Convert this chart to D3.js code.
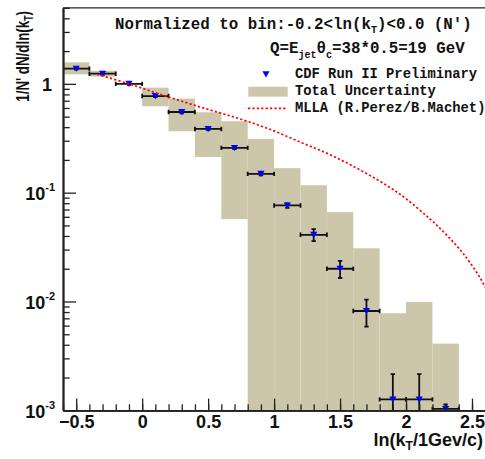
<!DOCTYPE html>
<html>
<head>
<meta charset="utf-8">
<script src="https://cdn.jsdelivr.net/npm/d3@7"></script>
<style>
  body { margin: 0; background: #fff; }
  svg { display: block; }
  .mono { font-family: "Liberation Mono", "DejaVu Sans Mono", monospace; font-weight: bold; fill: #111; }
  .sans { font-family: "Liberation Sans", Arial, sans-serif; font-weight: bold; fill: #111; }
</style>
</head>
<body>
<svg id="chart"></svg>
<script>
// ---- data ----
const binCenters = [-0.5, -0.3, -0.1, 0.1, 0.3, 0.5, 0.7, 0.9, 1.1, 1.3, 1.5, 1.7, 1.9, 2.1, 2.3];
const binHalfWidth = 0.1;
const cdfValues = [1.38, 1.24, 1.0, 0.773, 0.551, 0.385, 0.258, 0.149, 0.0763, 0.041, 0.020, 0.00818, 0.00126, 0.00126, 0.00103];
const statHigh  = [1.41, 1.27, 1.02, 0.79, 0.565, 0.395, 0.265, 0.154, 0.0795, 0.0462, 0.0236, 0.0104, 0.00215, 0.00215, 0.00113];
const statLow   = [1.35, 1.21, 0.98, 0.757, 0.537, 0.375, 0.251, 0.144, 0.0725, 0.0359, 0.01644, 0.00587, 0.0003, 0.0003, 0.0003];
const totalHigh = [1.575, 1.32, 1.0, 0.923, 0.732, 0.548, 0.453, 0.312, 0.168, 0.117, 0.0662, 0.0308, 0.0078, 0.0099, 0.0041];
const totalLow  = [1.222, 1.164, 1.0, 0.622, 0.367, 0.213, 0.0571, 0.0001, 0.0001, 0.0001, 0.0001, 0.0001, 0.0001, 0.0001, 0.0001];
const mllaX = [-0.34, -0.104, 0.161, 0.439, 0.717, 0.95, 1.197, 1.449, 1.702, 1.955, 2.18, 2.308, 2.434, 2.56, 2.6];
const mllaY = [1.222, 1.004, 0.784, 0.613, 0.486, 0.39, 0.292, 0.216, 0.1496, 0.0966, 0.0575, 0.0407, 0.0275, 0.0166, 0.0135];
const xMajorTicks = [-0.5, 0, 0.5, 1, 1.5, 2, 2.5];
const xMinorTicks = d3.range(-6, 27).map(d => d / 10);
const yMajorTicks = [1e-3, 1e-2, 1e-1, 1];
const yTickLabels = [["10", "-3"], ["10", "-2"], ["10", "-1"], ["1", ""]];
const yMinorTicks = [2, 3, 4, 5, 6, 7, 8, 9].flatMap(m => [1e-3, 1e-2, 1e-1, 1].map(p => m * p)).filter(d => d <= 5);

const width = 485, height = 459;
const svg = d3.select('#chart').attr('width', width).attr('height', height);

const xScale = d3.scaleLinear().domain([-0.6, 2.6]).range([63, 485.2]);
const yScale = d3.scaleLog().domain([1e-3, 5]).range([410.3, 7.8]);

svg.append('clipPath').attr('id', 'plotClip')
  .append('rect')
    .attr('x', xScale(-0.6)).attr('y', yScale(5))
    .attr('width', xScale(2.6) - xScale(-0.6))
    .attr('height', yScale(1e-3) - yScale(5));

const plot = svg.append('g').attr('clip-path', 'url(#plotClip)');

// total uncertainty boxes
plot.append('g').selectAll('rect')
  .data(binCenters)
  .join('rect')
    .attr('x', d => xScale(d - binHalfWidth))
    .attr('width', d => xScale(d + binHalfWidth) - xScale(d - binHalfWidth))
    .attr('y', (d, i) => yScale(totalHigh[i]))
    .attr('height', (d, i) => yScale(totalLow[i]) - yScale(totalHigh[i]))
    .attr('fill', '#ccc6aa');

// error bars
const errG = plot.append('g').attr('stroke', '#111').attr('stroke-width', 1.8);
binCenters.forEach((c, i) => {
  const y = yScale(cdfValues[i]);
  const x0 = xScale(c - binHalfWidth), x1 = xScale(c + binHalfWidth), xc = xScale(c);
  errG.append('line').attr('x1', x0).attr('x2', x1).attr('y1', y).attr('y2', y);
  errG.append('line').attr('x1', x0).attr('x2', x0).attr('y1', y - 2.2).attr('y2', y + 2.2);
  errG.append('line').attr('x1', x1).attr('x2', x1).attr('y1', y - 2.2).attr('y2', y + 2.2);
  const yh = yScale(statHigh[i]), yl = yScale(statLow[i]);
  errG.append('line').attr('x1', xc).attr('x2', xc).attr('y1', yh).attr('y2', yl);
  errG.append('line').attr('x1', xc - 2.2).attr('x2', xc + 2.2).attr('y1', yh).attr('y2', yh);
  errG.append('line').attr('x1', xc - 2.2).attr('x2', xc + 2.2).attr('y1', yl).attr('y2', yl);
});

// markers (inverted triangles)
const tri = 'M-3.6,-3 L3.6,-3 L0,3.2 Z';
plot.append('g').selectAll('path')
  .data(binCenters)
  .join('path')
    .attr('d', tri)
    .attr('transform', (d, i) => `translate(${xScale(d)},${yScale(cdfValues[i])})`)
    .attr('fill', '#0000ff');

// MLLA curve
const mllaLine = d3.line()
  .x(d => xScale(d[0]))
  .y(d => yScale(d[1]))
  .curve(d3.curveCatmullRom);
plot.append('path')
  .datum(mllaX.map((x, i) => [x, mllaY[i]]))
  .attr('d', mllaLine)
  .attr('fill', 'none')
  .attr('stroke', '#ff0000')
  .attr('stroke-width', 1.7)
  .attr('stroke-dasharray', '2.2,2.2');

// ---- axes ----
const xAxisG = svg.append('g').attr('transform', `translate(0,${yScale(1e-3)})`);
xAxisG.call(d3.axisBottom(xScale).tickValues(xMinorTicks).tickSize(-6).tickSizeOuter(0).tickFormat(''));
xAxisG.append('g').call(d3.axisBottom(xScale).tickValues(xMajorTicks).tickSize(-11.7).tickSizeOuter(0).tickPadding(5).tickFormat(d3.format('')));
xAxisG.selectAll('path.domain').attr('stroke', '#222').attr('stroke-width', 1.8);
xAxisG.selectAll('.tick line').attr('stroke', '#222').attr('stroke-width', 1.3);
xAxisG.selectAll('.tick text')
  .attr('class', 'sans')
  .style('font-size', '18px')
  .attr('fill', '#111');

const yAxisG = svg.append('g').attr('transform', `translate(${xScale(-0.6)},0)`);
yAxisG.call(d3.axisLeft(yScale).tickValues(yMinorTicks).tickSize(-6.7).tickSizeOuter(0).tickFormat(''));
yAxisG.append('g').call(d3.axisLeft(yScale).tickValues(yMajorTicks).tickSize(-13).tickSizeOuter(0).tickFormat(''));
yAxisG.selectAll('path.domain').attr('stroke', '#222').attr('stroke-width', 1.8);
yAxisG.selectAll('.tick line').attr('stroke', '#222').attr('stroke-width', 1.3);

// y tick labels as 10^n
const yLab = svg.append('g').selectAll('text')
  .data(yMajorTicks)
  .join('text')
    .attr('class', 'sans')
    .attr('text-anchor', 'end')
    .attr('x', (d, i) => yTickLabels[i][1] ? 55 : 52)
    .attr('y', d => yScale(d) + 7.5)
    .style('font-size', '18px');
yLab.append('tspan').text((d, i) => yTickLabels[i][0]);
yLab.append('tspan')
  .attr('dy', -9)
  .style('font-size', '11px')
  .text((d, i) => yTickLabels[i][1]);

// top frame line
svg.append('line')
  .attr('x1', xScale(-0.6)).attr('x2', xScale(2.6))
  .attr('y1', yScale(5)).attr('y2', yScale(5))
  .attr('stroke', '#222').attr('stroke-width', 1.3);

// axis titles
const xt = svg.append('text').attr('class', 'sans')
  .attr('text-anchor', 'end').attr('x', 483).attr('y', 446)
  .style('font-size', '18px');
xt.append('tspan').text('ln(k');
xt.append('tspan').attr('dy', 4).style('font-size', '12px').text('T');
xt.append('tspan').attr('dy', -4).text('/1Gev/c)');

const yt = svg.append('text').attr('class', 'sans')
  .attr('text-anchor', 'end')
  .attr('transform', 'translate(28.5,11) rotate(-90) scale(0.74,1)')
  .style('font-size', '18px');
yt.append('tspan').text("1/N' dN/dln(k");
yt.append('tspan').attr('dy', 4).style('font-size', '12px').text('T');
yt.append('tspan').attr('dy', -4).text(')');

// header texts
const t1 = svg.append('text').attr('class', 'mono').attr('x', 115).attr('y', 29.3).style('font-size', '15.8px');
t1.append('tspan').text('Normalized to bin:-0.2<ln(k');
t1.append('tspan').attr('dy', 4).style('font-size', '10px').text('T');
t1.append('tspan').attr('dy', -4).text(")<0.0 (N')");

const t2 = svg.append('text').attr('class', 'mono').attr('x', 270).attr('y', 52.5).style('font-size', '15.8px');
t2.append('tspan').text('Q=E');
t2.append('tspan').attr('dy', 5).style('font-size', '10px').text('jet');
t2.append('tspan').attr('dy', -5).text('θ');
t2.append('tspan').attr('dy', 5).style('font-size', '10px').text('c');
t2.append('tspan').attr('dy', -5).text('=38*0.5=19 GeV');

// legend
const legendLabels = ['CDF Run II Preliminary', 'Total Uncertainty', 'MLLA (R.Perez/B.Machet)'];
const legendY = [78.3, 95, 112.3];
const legend = svg.append('g');
legend.selectAll('text')
  .data(legendLabels)
  .join('text')
    .attr('class', 'mono')
    .attr('x', 295)
    .attr('y', (d, i) => legendY[i])
    .style('font-size', '13.8px')
    .text(d => d);
legend.append('path').attr('d', tri).attr('fill', '#0000ff')
  .attr('transform', 'translate(266,74.3)');
legend.append('rect').attr('x', 248.3).attr('y', 86.7).attr('width', 39.4).attr('height', 10).attr('fill', '#ccc6aa');
legend.append('line').attr('x1', 248).attr('x2', 286).attr('y1', 108.3).attr('y2', 108.3)
  .attr('stroke', '#ff0000').attr('stroke-width', 1.7).attr('stroke-dasharray', '2.2,2.2');
</script>
</body>
</html>
